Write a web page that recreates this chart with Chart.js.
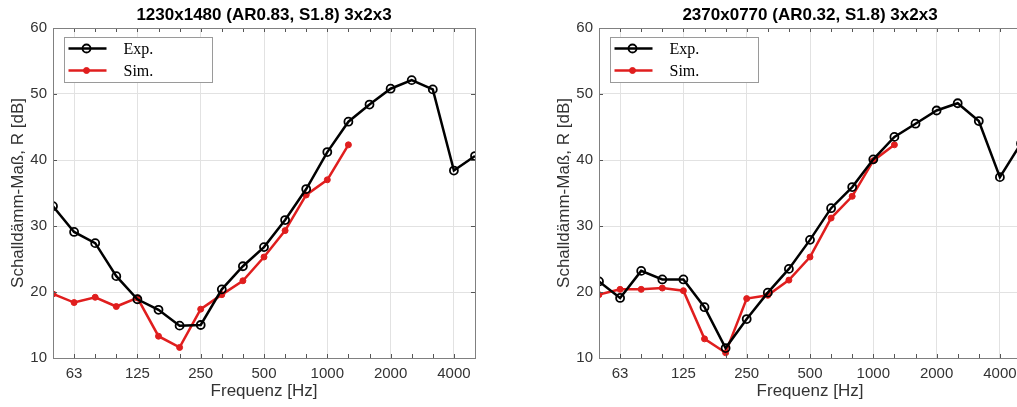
<!DOCTYPE html>
<html><head><meta charset="utf-8">
<script src="https://cdn.jsdelivr.net/npm/chart.js@4.4.0/dist/chart.umd.min.js"></script>
<style>
html,body{margin:0;padding:0;background:#fff;overflow:hidden;width:1017px;height:407px;position:relative;}
.c{position:absolute;top:0;width:528px;height:407px;}
</style></head><body>
<div class="c" style="left:0"><canvas id="c1" width="528" height="407"></canvas></div>
<div class="c" style="left:546px"><canvas id="c2" width="528" height="407"></canvas></div>
<script>
// one-third octave band centre frequencies [Hz]
const freqs = [50,63,80,100,125,160,200,250,315,400,500,630,800,1000,1250,1600,2000,2500,3150,4000,5000];
const xTickLabels = ['63','125','250','500','1000','2000','4000'];
const yTicks = [10,20,30,40,50,60];
const seriesNames = ['Exp.','Sim.'];

const title1 = '1230x1480 (AR0.83, S1.8) 3x2x3';
const exp1 = [33.0,29.1,27.4,22.4,18.9,17.3,14.9,15.0,20.4,23.9,26.8,30.9,35.6,41.2,45.8,48.4,50.8,52.1,50.7,38.4,40.6];
const sim1 = [19.7,18.4,19.2,17.8,19.1,13.3,11.6,17.4,19.6,21.7,25.3,29.3,34.7,37.0,42.3];

const title2 = '2370x0770 (AR0.32, S1.8) 3x2x3';
const exp2 = [21.6,19.1,23.2,21.9,21.9,17.7,11.5,15.9,19.9,23.5,27.9,32.7,35.9,40.1,43.5,45.5,47.5,48.6,45.9,37.4,42.5];
const sim2 = [19.6,20.4,20.4,20.6,20.2,12.9,10.8,19.0,19.5,21.8,25.3,31.2,34.5,39.9,42.3];

const majorIdx = xTickLabels.map(l => freqs.indexOf(Number(l)));
const toPts = arr => arr.map((v,i)=>({x:i,y:v}));

const SANS = "'Liberation Sans', Arial, Helvetica, sans-serif";
const SERIF = "'Liberation Serif', 'Times New Roman', serif";
const TXT = '#333333';

const framePlugin = {
  id:'frame',
  afterDatasetsDraw(chart){
    const {ctx, chartArea:a, scales:{x,y}} = chart;
    ctx.save();
    // inward tick marks
    ctx.strokeStyle='#555'; ctx.lineWidth=1;
    ctx.beginPath();
    x.ticks.forEach(t=>{
      const px=Math.round(x.getPixelForValue(t.value))+0.5;
      ctx.moveTo(px,a.bottom); ctx.lineTo(px,a.bottom-4);
      ctx.moveTo(px,a.top); ctx.lineTo(px,a.top+4);
    });
    y.ticks.forEach(t=>{
      const py=Math.round(y.getPixelForValue(t.value))+0.5;
      ctx.moveTo(a.left,py); ctx.lineTo(a.left+4,py);
      ctx.moveTo(a.right,py); ctx.lineTo(a.right-4,py);
    });
    ctx.stroke();
    // box
    ctx.strokeStyle='#808080';
    ctx.strokeRect(Math.round(a.left)+0.5, Math.round(a.top)+0.5, Math.round(a.right-a.left), Math.round(a.bottom-a.top));
    // legend
    const bx=Math.round(a.left)+11.5, by=Math.round(a.top)+9.5, bw=148, bh=45;
    ctx.fillStyle='#fff'; ctx.fillRect(bx,by,bw,bh);
    ctx.strokeStyle='#9a9a9a'; ctx.strokeRect(bx,by,bw,bh);
    chart.data.datasets.forEach((ds,i)=>{
      const ry = by + 11 + i*22;
      ctx.strokeStyle=ds.borderColor; ctx.lineWidth=ds.borderWidth;
      ctx.beginPath(); ctx.moveTo(bx+4,ry); ctx.lineTo(bx+42,ry); ctx.stroke();
      ctx.beginPath(); ctx.arc(bx+22,ry,ds.pointRadius,0,Math.PI*2);
      ctx.fillStyle=ds.pointBackgroundColor; ctx.fill();
      ctx.lineWidth=ds.pointBorderWidth; ctx.strokeStyle=ds.pointBorderColor; ctx.stroke();
      ctx.fillStyle='#000'; ctx.font="16px "+SERIF; ctx.textBaseline='middle'; ctx.textAlign='left';
      ctx.fillText(ds.label,bx+59,ry+1);
    });
    ctx.restore();
  }
};

function makeChart(id, title, exp, sim){
  return new Chart(document.getElementById(id), {
    type:'line',
    data:{datasets:[
      {label:seriesNames[0], data:toPts(exp), borderColor:'#000', borderWidth:2.5,
       pointRadius:4, pointBorderWidth:1.8, pointBorderColor:'#000', pointBackgroundColor:'rgba(255,255,255,0)', tension:0},
      {label:seriesNames[1], data:toPts(sim), borderColor:'#e01e1e', borderWidth:2.5,
       pointRadius:3, pointBorderWidth:1, pointBorderColor:'#e01e1e', pointBackgroundColor:'#e01e1e', tension:0}
    ]},
    options:{
      responsive:false, animation:false, devicePixelRatio:1,
      layout:{padding:0},
      plugins:{
        legend:{display:false}, tooltip:{enabled:false},
        title:{display:true, text:title, color:'#000', font:{family:SANS,size:17,weight:'bold'}, padding:{top:5,bottom:2.6}}
      },
      scales:{
        x:{type:'linear', min:0, max:freqs.length-1,
          afterBuildTicks: s => { s.ticks = freqs.map((f,i)=>({value:i})); },
          afterFit: s => { s.height = 49; },
          ticks:{autoSkip:false, maxRotation:0, padding:7, color:TXT, font:{family:SANS,size:15},
            callback: v => { const k = majorIdx.indexOf(v); return k>=0 ? xTickLabels[k] : ''; }},
          grid:{drawTicks:false, lineWidth:1, color: c => (c.tick && majorIdx.includes(c.tick.value)) ? '#e2e2e2' : 'rgba(0,0,0,0)'},
          border:{display:false},
          title:{display:true, text:'Frequenz [Hz]', color:TXT, font:{family:SANS,size:17}, padding:{top:0,bottom:5}}
        },
        y:{type:'linear', min:yTicks[0], max:yTicks[yTicks.length-1],
          afterBuildTicks: s => { s.ticks = yTicks.map(v=>({value:v})); },
          afterFit: s => { s.width = 53; },
          ticks:{padding:6, color:TXT, font:{family:SANS,size:15}},
          grid:{drawTicks:false, color:'#e2e2e2', lineWidth:1},
          border:{display:false},
          title:{display:true, text:'Schalldämm-Maß, R [dB]', color:TXT, font:{family:SANS,size:17}, padding:{top:8,bottom:0}}
        },
        yr:{type:'linear', position:'right', min:yTicks[0], max:yTicks[yTicks.length-1],
          afterFit: s => { s.width = 53; },
          ticks:{display:false}, grid:{display:false, drawOnChartArea:false}, border:{display:false}
        }
      }
    },
    plugins:[framePlugin]
  });
}
makeChart('c1', title1, exp1, sim1);
makeChart('c2', title2, exp2, sim2);
</script>
</body></html>
